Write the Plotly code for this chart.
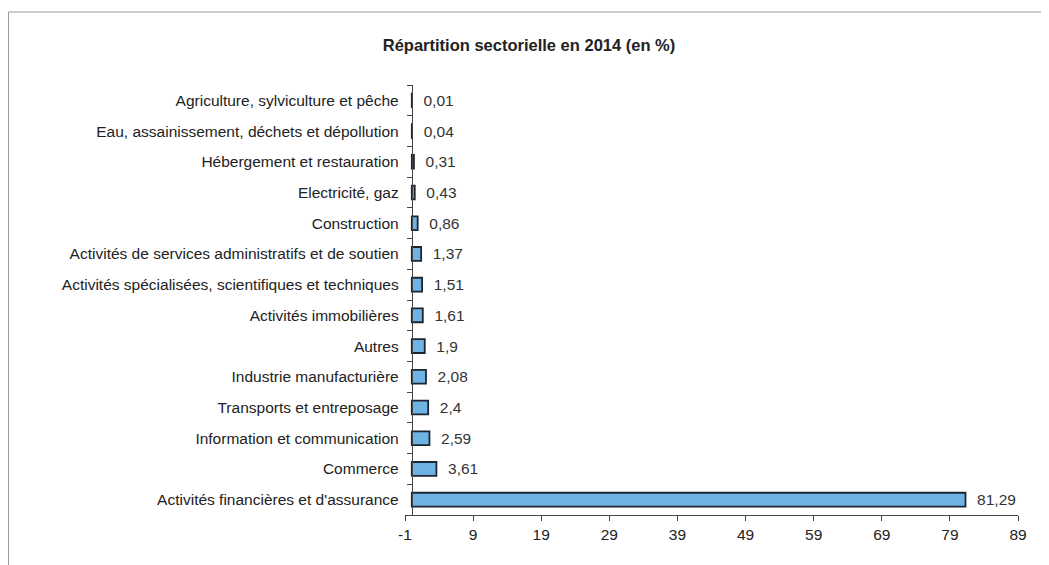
import plotly.graph_objects as go

categories = [
    "Agriculture, sylviculture et pêche",
    "Eau, assainissement, déchets et dépollution",
    "Hébergement et restauration",
    "Electricité, gaz",
    "Construction",
    "Activités de services administratifs et de soutien",
    "Activités spécialisées, scientifiques et techniques",
    "Activités immobilières",
    "Autres",
    "Industrie manufacturière",
    "Transports et entreposage",
    "Information et communication",
    "Commerce",
    "Activités financières et d'assurance",
]
values = [0.01, 0.04, 0.31, 0.43, 0.86, 1.37, 1.51, 1.61, 1.9, 2.08, 2.4, 2.59, 3.61, 81.29]
x_ticks = [-1, 9, 19, 29, 39, 49, 59, 69, 79, 89]

labels = ["  " + str(v).replace(".", ",") for v in values]

W, H = 1049, 565
OFF = 8  # page body margin
L, R, T, B = 405 - OFF, 1049 - (1018 - OFF), 85 - OFF, 565 - (515 - OFF)
FONT = "Liberation Sans, Arial, sans-serif"
FS = 15.5

fig = go.Figure(go.Bar(
    x=values, y=categories, orientation="h",
    marker=dict(color="#6fb2e4", line=dict(color="#1c2630", width=1.8)),
    text=labels, textposition="outside", cliponaxis=False, constraintext="none",
    textfont=dict(family=FONT, size=FS, color="#333333"),
))

def px_x(p):
    return (p - L) / (W - L - R)

def px_y(p):
    return 1 - (p - T) / (H - T - B)

fig.add_shape(type="rect", xref="paper", yref="paper",
              x0=px_x(0.5), x1=px_x(1080), y0=px_y(600), y1=px_y(4),
              line=dict(color="#9a9a9a", width=1), fillcolor="rgba(0,0,0,0)", layer="below")

fig.update_layout(
    width=W, height=H,
    margin=dict(l=L, r=R, t=T, b=B),
    paper_bgcolor="white", plot_bgcolor="white",
    showlegend=False,
    bargap=0.55,
    font=dict(family=FONT, size=FS, color="#222222"),
    title=dict(text="<b>Répartition sectorielle en 2014 (en %)</b>",
               x=(529 - OFF) / W, xref="container", xanchor="center",
               y=1 - (45 - OFF) / H, yref="container", yanchor="middle",
               font=dict(family=FONT, size=16.5, color="#222222")),
    xaxis=dict(range=[-1, 89], tickvals=x_ticks, ticktext=[str(t) for t in x_ticks],
               showgrid=False, zeroline=False, showline=True, linecolor="#444444", linewidth=1,
               ticks="outside", ticklen=5, tickcolor="#444444",
               tickfont=dict(family=FONT, size=FS, color="#222222")),
    yaxis=dict(autorange="reversed", showgrid=False, zeroline=False,
               showline=True, linecolor="#444444", linewidth=1,
               anchor="free", position=1 / 90,
               ticks="outside", ticklen=5, tickcolor="#444444", tickson="boundaries",
               ticklabelstandoff=10,
               tickfont=dict(family=FONT, size=FS, color="#222222")),
)

fig.write_html("out.html")
